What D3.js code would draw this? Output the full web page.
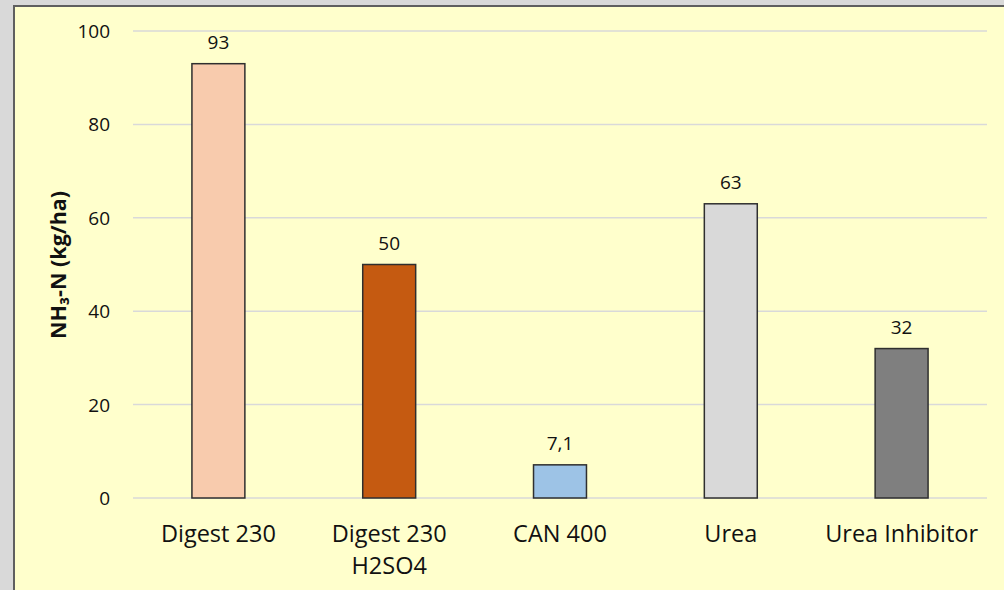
<!DOCTYPE html>
<html>
<head>
<meta charset="utf-8">
<script src="https://cdn.jsdelivr.net/npm/d3@7"></script>
<style>
  html, body { margin: 0; padding: 0; background: #d9d9d9; }
  svg { display: block; }
  text { font-family: "Open Sans", "Noto Sans", sans-serif; fill: #111; }
</style>
</head>
<body>
<svg id="chart" width="1004" height="590"></svg>
<script>
// Ammonia emissions per fertilizer treatment
const categories = ["Digest 230", "Digest 230\nH2SO4", "CAN 400", "Urea", "Urea Inhibitor"];
const values = [93, 50, 7.1, 63, 32];
const valueLabels = ["93", "50", "7,1", "63", "32"];
const barColors = ["#f8cbad", "#c55a11", "#9dc3e6", "#d9d9d9", "#7f7f7f"];
const yTicks = [0, 20, 40, 60, 80, 100];
const yTitle = "NH₃-N (kg/ha)";

const svg = d3.select("#chart");
const W = 1004, H = 590;
const plot = { left: 133, right: 987, top: 31, bottom: 498 };

// Chart area with frame
svg.append("rect")
  .attr("x", 14).attr("y", 6)
  .attr("width", W).attr("height", H)
  .attr("fill", "#ffffcc")
  .attr("stroke", "#5f5f5f").attr("stroke-width", 2);

const x = d3.scaleBand()
  .domain(categories)
  .range([plot.left, plot.right])
  .paddingInner(0.69)
  .paddingOuter(0.345);

const y = d3.scaleLinear().domain([0, 100]).range([plot.bottom, plot.top]);

// Gridlines
svg.append("g")
  .selectAll("line")
  .data(yTicks)
  .join("line")
  .attr("x1", plot.left).attr("x2", plot.right)
  .attr("y1", d => y(d)).attr("y2", d => y(d))
  .attr("stroke", "#d9d9d9").attr("stroke-width", 1.5);

// Y axis labels
const yAxis = d3.axisLeft(y).tickValues(yTicks).tickSize(0).tickPadding(0);
svg.append("g")
  .attr("transform", `translate(110,0)`)
  .call(yAxis)
  .call(g => g.select(".domain").remove())
  .call(g => g.selectAll("text")
    .attr("font-size", 19)
    .attr("font-family", "'Open Sans', sans-serif")
    .attr("fill", "#111")
    .attr("dy", "0.34em"));

// Bars
svg.append("g")
  .selectAll("rect")
  .data(categories)
  .join("rect")
  .attr("x", d => x(d))
  .attr("width", x.bandwidth())
  .attr("y", (d, i) => y(values[i]))
  .attr("height", (d, i) => y(0) - y(values[i]))
  .attr("fill", (d, i) => barColors[i])
  .attr("stroke", "#2f2f2f").attr("stroke-width", 1.5);

// Value labels
svg.append("g")
  .selectAll("text")
  .data(categories)
  .join("text")
  .attr("x", d => x(d) + x.bandwidth() / 2)
  .attr("y", (d, i) => y(values[i]) - 15)
  .attr("text-anchor", "middle")
  .attr("font-size", 19)
  .text((d, i) => valueLabels[i]);

// Category labels (multi-line)
const catG = svg.append("g");
categories.forEach(c => {
  const t = catG.append("text")
    .attr("x", x(c) + x.bandwidth() / 2)
    .attr("y", 542)
    .attr("text-anchor", "middle")
    .attr("font-size", 23.5);
  c.split("\n").forEach((line, j) => {
    t.append("tspan")
      .attr("x", x(c) + x.bandwidth() / 2)
      .attr("dy", j === 0 ? 0 : 32)
      .text(line);
  });
});

// Y axis title
svg.append("text")
  .attr("transform", `translate(66,${(190 + 340) / 2}) rotate(-90)`)
  .attr("text-anchor", "middle")
  .attr("font-size", 21.5)
  .attr("font-weight", "bold")
  .text(yTitle);
</script>
</body>
</html>
